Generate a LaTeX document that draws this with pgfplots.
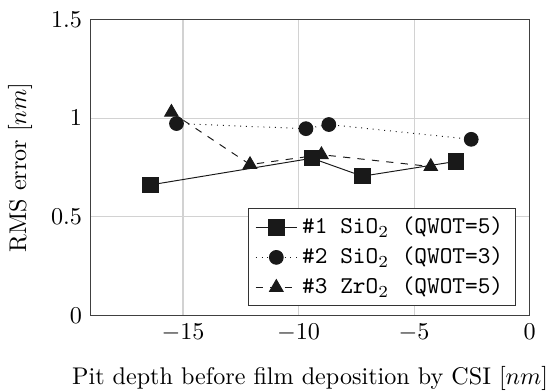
\documentclass[border=0pt]{standalone}
\usepackage{pgfplots}
\pgfplotsset{compat=1.18}
\begin{document}
\begin{tikzpicture}
\begin{axis}[
  scale only axis,
  width=182pt, height=122.6pt,
  xmin=-19, xmax=0, ymin=0, ymax=1.5,
  xtick={-15,-10,-5,0}, ytick={0,0.5,1,1.5},
  grid=major, major grid style={gray!35, line width=0.5pt},
  axis line style={black!75, line width=0.6pt},
  tick style={draw=none},
  xlabel={Pit depth before film deposition by CSI [$nm$]},
  ylabel={RMS error [$nm$]},
  xlabel style={inner xsep=1.2pt, inner ysep=0.5pt},
  yticklabel style={inner ysep=4.9pt},
  xlabel shift=6.2pt, ylabel shift=1pt,
  legend style={at={(0.968,0.031)}, anchor=south east, draw=black!80, font=\ttfamily, inner ysep=1.4pt},
  legend cell align=left,
]
\addplot[black!90, solid, mark=square*, mark size=3.2pt] coordinates {
  (-16.4,0.662) (-9.42,0.797) (-7.24,0.706) (-3.19,0.781)
};
\addlegendentry{\#1 SiO$_2$ (QWOT=5)}
\addplot[black!90, dotted, mark=*, mark size=2.85pt, mark options={solid}] coordinates {
  (-15.28,0.973) (-9.68,0.947) (-8.69,0.968) (-2.53,0.893)
};
\addlegendentry{\#2 SiO$_2$ (QWOT=3)}
\addplot[black!90, dashed, mark=triangle*, mark size=3.2pt, mark options={solid}] coordinates {
  (-15.5,1.03) (-12.1,0.765) (-9.01,0.815) (-4.28,0.755)
};
\addlegendentry{\#3 ZrO$_2$ (QWOT=5)}
\end{axis}
\end{tikzpicture}
\end{document}
